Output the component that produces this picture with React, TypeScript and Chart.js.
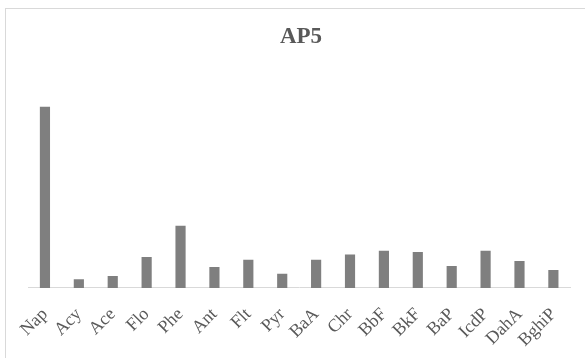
import React, { useEffect, useRef } from "react";
import { Chart, registerables } from "chart.js";

Chart.register(...registerables);

const categories = ["Nap", "Acy", "Ace", "Flo", "Phe", "Ant", "Flt", "Pyr", "BaA", "Chr", "BbF", "BkF", "BaP", "IcdP", "DahA", "BghiP"];
const values = [180, 8.7, 11.7, 30.7, 61.7, 20.7, 28, 14, 28, 33.3, 37, 35.7, 21.7, 37, 26.7, 17.7];
const chartTitle = "AP5";

export default function App() {
  const ref = useRef<HTMLCanvasElement | null>(null);
  useEffect(() => {
    if (!ref.current) return;
    const serif = "'Liberation Serif', 'Times New Roman', serif";
    const chart = new Chart(ref.current, {
      type: "bar",
      data: {
        labels: categories,
        datasets: [
          {
            data: values,
            backgroundColor: "#7f7f7f",
            borderWidth: 0,
            barPercentage: 0.3,
            categoryPercentage: 1,
          },
        ],
      },
      options: {
        animation: false,
        responsive: false,
        maintainAspectRatio: false,
        layout: { padding: { top: 23, left: 28, right: 11, bottom: -9 } },
        plugins: {
          legend: { display: false },
          tooltip: { enabled: false },
          title: {
            display: true,
            text: chartTitle,
            color: "#595959",
            font: { family: serif, size: 23, weight: "bold" },
            padding: { top: 0, bottom: 36 },
          },
        },
        scales: {
          x: {
            grid: { display: false, drawTicks: false },
            border: { display: true, color: "#d9d9d9", width: 1 },
            ticks: {
              color: "#595959",
              font: { family: serif, size: 18 },
              minRotation: 45,
              maxRotation: 45,
              autoSkip: false,
              padding: 16,
            },
          },
          y: {
            display: false,
            min: 0,
            max: 200,
          },
        },
      },
    });
    return () => chart.destroy();
  }, []);
  return (
    <div style={{ position: "fixed", left: 0, top: 0, width: 585, height: 358, background: "#fff", overflow: "hidden" }}>
      <div style={{ position: "absolute", left: 5, top: 8, width: 640, height: 400, border: "1px solid #d9d9d9", boxSizing: "border-box" }} />
      <canvas ref={ref} width={585} height={358} style={{ position: "absolute", left: 0, top: 0 }} />
    </div>
  );
}
